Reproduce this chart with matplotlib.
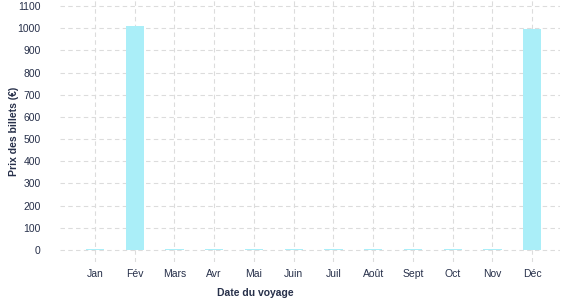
import matplotlib
matplotlib.use("Agg")
import matplotlib.pyplot as plt

months = ["Jan", "Fév", "Mars", "Avr", "Mai", "Juin", "Juil", "Août", "Sept", "Oct", "Nov", "Déc"]
prices = [5, 1010, 5, 5, 5, 5, 5, 5, 5, 5, 5, 998]
yticks = [0, 100, 200, 300, 400, 500, 600, 700, 800, 900, 1000, 1100]

plt.rcParams['font.family'] = ['Liberation Sans', 'DejaVu Sans']
text_color = "#27304a"

fig = plt.figure(figsize=(5.77, 3.0), dpi=100)
ax = fig.add_axes([60/577, 38/300, 500/577, 262/300])

x = list(range(len(months)))
ax.bar(x, prices, width=0.46, color="#aaeef8", edgecolor="none", zorder=3)

ax.set_xlim(-0.88, 11.7)
ax.set_ylim(-54, 1127)
ax.set_xticks(x)
ax.set_xticklabels(months)
ax.set_yticks(yticks)

for s in ax.spines.values():
    s.set_visible(False)
ax.grid(True, color="#dcdcdc", linestyle=(0, (4, 3)), linewidth=0.8, zorder=0)
ax.tick_params(axis='both', length=0, labelsize=7.5, colors=text_color)
ax.tick_params(axis='x', pad=5)
ax.tick_params(axis='y', pad=14)

fig.text(255/577, 1 - 293/300, "Date du voyage", fontsize=7.5, fontweight='bold',
         color=text_color, ha='center', va='center')
fig.text(14/577, 1 - 131/300, "Prix des billets (€)", fontsize=7.5, fontweight='bold',
         color=text_color, ha='center', va='center', rotation=90)

fig.savefig("out.png", dpi=100)
